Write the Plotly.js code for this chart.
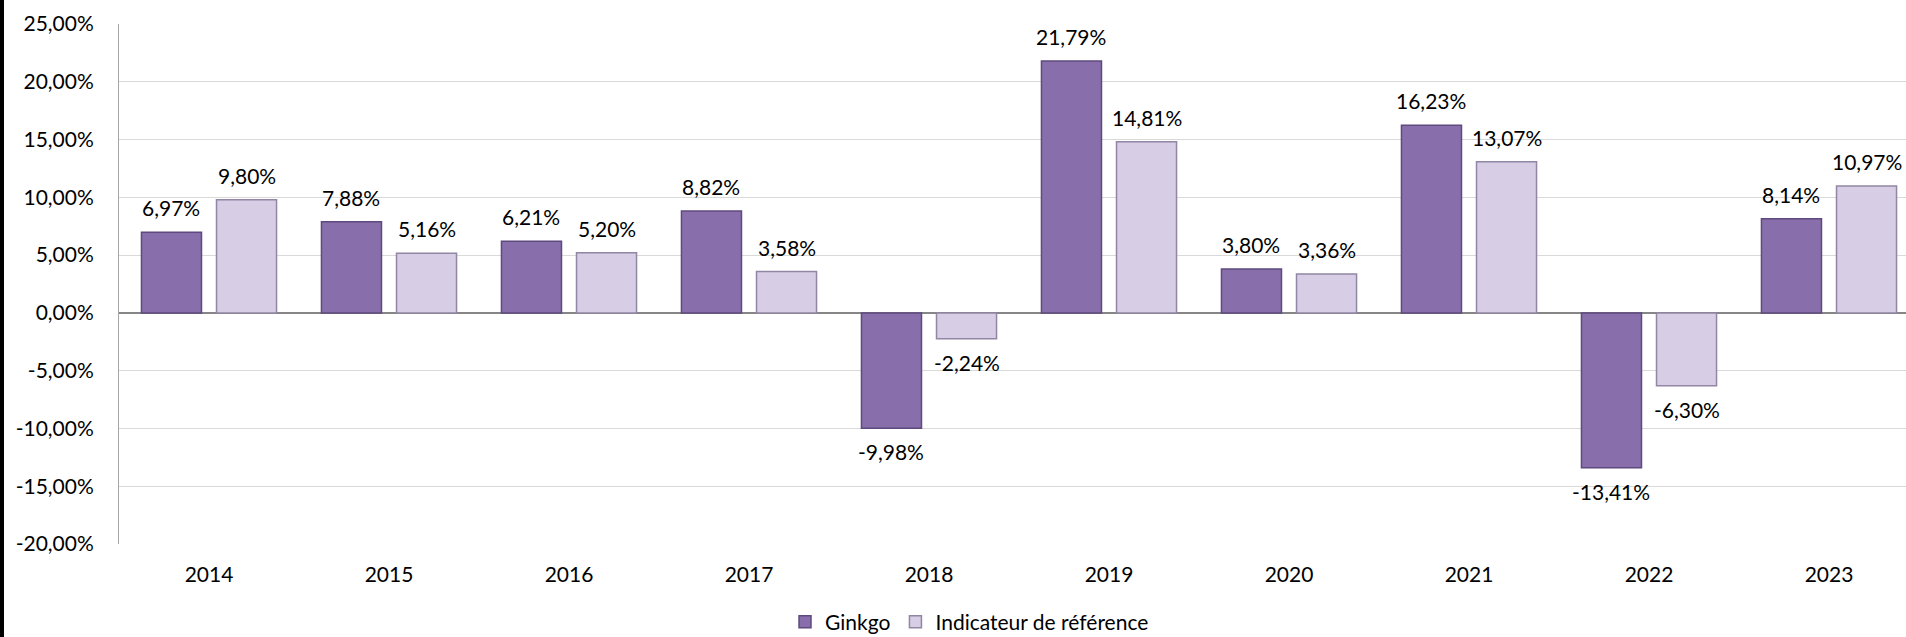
<!DOCTYPE html>
<html>
<head>
<meta charset="utf-8">
<script src="https://cdn.plot.ly/plotly-3.0.1.min.js"></script>
<style>
html,body{margin:0;padding:0;overflow:hidden;background:#fff;width:1906px;height:637px;}
#chart{width:1920px;height:637px;}
#edge{position:absolute;left:0;top:0;width:4px;height:637px;background:#000;z-index:10;}
</style>
</head>
<body>
<div id="edge"></div>
<div id="chart"></div>
<script>
const years = ['2014','2015','2016','2017','2018','2019','2020','2021','2022','2023'];
const ginkgo = [6.97, 7.88, 6.21, 8.82, -9.98, 21.79, 3.80, 16.23, -13.41, 8.14];
const indicateur = [9.80, 5.16, 5.20, 3.58, -2.24, 14.81, 3.36, 13.07, -6.30, 10.97];
const seriesNames = ['Ginkgo', 'Indicateur de référence'];
const yTicks = [-20, -15, -10, -5, 0, 5, 10, 15, 20, 25];

const FONT = 'Lato, "Open Sans", sans-serif';
const FS = 21;
const BARGAP = 0.166;
const off = (1 - BARGAP) / 4;

function fmt(v){ return v.toFixed(2).replace('.', ',') + '%'; }

const annotations = [];
[ginkgo, indicateur].forEach((arr, si) => {
  arr.forEach((v, i) => {
    annotations.push({
      x: i + (si === 0 ? -off : off), y: v, xref: 'x', yref: 'y',
      text: fmt(v), showarrow: false,
      yanchor: v >= 0 ? 'bottom' : 'top',
      yshift: v >= 0 ? 10 : -9,
      font: {family: FONT, size: FS, color: '#000'}
    });
  });
});

const traces = [
  {type: 'bar', name: seriesNames[0], x: years, y: ginkgo,
   marker: {color: '#886EAA', line: {color: '#5E4A7E', width: 1.5}}},
  {type: 'bar', name: seriesNames[1], x: years, y: indicateur,
   marker: {color: '#D7CDE4', line: {color: '#9186A3', width: 1.5}}}
];

const layout = {
  width: 1920, height: 637,
  margin: {l: 119, r: 1, t: 24, b: 93, autoexpand: false},
  paper_bgcolor: '#fff', plot_bgcolor: '#fff',
  barmode: 'group', bargap: BARGAP, bargroupgap: 0.2,
  separators: ', ',
  font: {family: FONT, size: FS, color: '#000'},
  showlegend: true,
  legend: {orientation: 'h', x: 0.37, xanchor: 'left', y: -0.15, yanchor: 'middle',
           font: {family: FONT, size: FS, color: '#000'}, itemwidth: 30, traceorder: 'normal'},
  xaxis: {type: 'category', showgrid: false, zeroline: false, showline: false, automargin: false,
          ticks: '', ticklabelstandoff: 16, tickfont: {family: FONT, size: FS, color: '#000'}},
  yaxis: {range: [-20, 25], tickvals: yTicks, ticktext: yTicks.map(fmt), automargin: false,
          showgrid: true, gridcolor: '#D9D9D9', gridwidth: 1,
          zeroline: true, zerolinecolor: '#868686', zerolinewidth: 2,
          showline: true, linecolor: '#A6A6A6', linewidth: 1,
          ticks: '', ticklabelstandoff: 20, tickfont: {family: FONT, size: FS, color: '#000'}},
  annotations: annotations
};

Plotly.newPlot('chart', traces, layout, {displayModeBar: false, staticPlot: true});
</script>
</body>
</html>
